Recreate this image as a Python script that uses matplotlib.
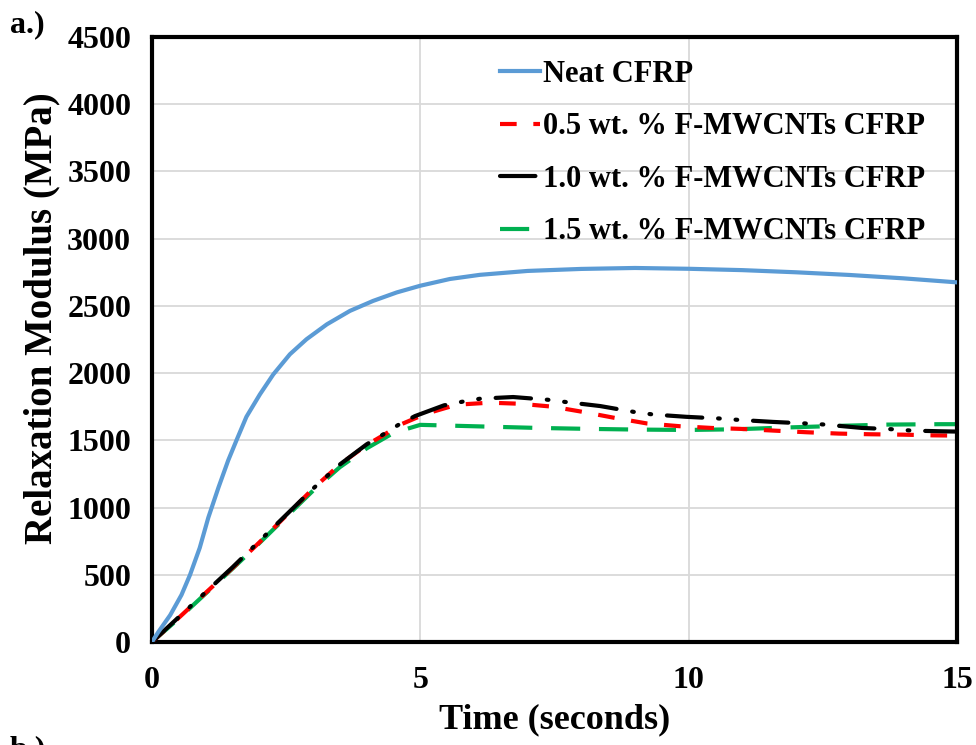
import matplotlib.pyplot as plt

t_neat = [0, 0.12, 0.34, 0.55, 0.71, 0.89, 1.05, 1.24, 1.42, 1.58, 1.76, 2.01, 2.26,
          2.57, 2.88, 3.26, 3.69, 4.12, 4.56, 5.0, 5.55, 6.11, 7.0, 8.0, 9.0, 10.0,
          11.0, 12.0, 13.0, 14.0, 15.0]
neat = [0, 75, 200, 350, 500, 700, 925, 1150, 1350, 1505, 1675, 1841, 1990,
        2140, 2252, 2363, 2463, 2537, 2600, 2650, 2700, 2731, 2760, 2775, 2782, 2776,
        2766, 2750, 2730, 2705, 2675]

t_05 = [0, 0.5, 1, 1.5, 2, 2.5, 3, 3.5, 4, 4.32, 4.63, 5.1, 5.68, 6.29, 6.86, 7.47,
        8.05, 8.62, 9.23, 9.83, 10.43, 10.97, 11.6, 12.2, 12.8, 13.4, 14.0, 14.55, 15.0]
wt_05 = [0, 180, 365, 550, 740, 940, 1140, 1320, 1465, 1540, 1617, 1697, 1765, 1780,
         1772, 1750, 1710, 1667, 1625, 1605, 1592, 1585, 1572, 1560, 1550, 1545, 1542,
         1537, 1535]

t_10 = [0, 0.5, 1, 1.5, 2, 2.5, 3, 3.5, 4, 4.3, 4.6, 4.9, 5.44, 5.78, 6.12, 6.73, 7.37,
        7.71, 8.35, 9.0, 9.34, 9.95, 10.59, 10.93, 11.57, 12.2, 12.55, 13.23, 13.82,
        14.17, 14.73, 15.0]
wt_10 = [0, 185, 370, 555, 750, 945, 1140, 1320, 1470, 1542, 1617, 1680, 1760, 1787,
         1810, 1822, 1802, 1785, 1755, 1710, 1692, 1675, 1662, 1652, 1637, 1625, 1617,
         1592, 1582, 1572, 1567, 1565]

t_15 = [0, 0.5, 1, 1.5, 2, 2.5, 3, 3.5, 4, 4.5, 5.0, 5.3, 6.25, 7.2, 8.15, 9.03, 9.98,
        10.86, 11.8, 12.75, 13.7, 14.7, 15.0]
wt_15 = [0, 175, 360, 545, 735, 930, 1125, 1300, 1440, 1555, 1615, 1612, 1602, 1592,
         1585, 1580, 1577, 1582, 1595, 1607, 1617, 1620, 1620]

labels = ["Neat CFRP", "0.5 wt. % F-MWCNTs CFRP",
          "1.0 wt. % F-MWCNTs CFRP", "1.5 wt. % F-MWCNTs CFRP"]

plt.rcParams['font.family'] = 'Liberation Serif'
plt.rcParams['font.weight'] = 'bold'

fig = plt.figure(figsize=(9.76, 7.45), dpi=100)
ax = fig.add_axes([0.1557, 0.1383, 0.8248, 0.812])

ax.plot(t_15, wt_15, color='#00b050', lw=3, dashes=(7, 4.5), zorder=2, label=labels[3])
ax.plot(t_05, wt_05, color='#ff0000', lw=3, dashes=(4, 4), zorder=3, label=labels[1])
ax.plot(t_10, wt_10, color='black', lw=3, dashes=(8.5, 3.8, 0.4, 3.8, 0.4, 3.8),
        dash_capstyle='round', zorder=4, label=labels[2])
ax.plot(t_neat, neat, color='#5b9bd5', lw=3, zorder=5, label=labels[0])

ax.set_xlim(0, 15)
ax.set_ylim(0, 4500)
ax.set_xticks([0, 5, 10, 15])
ax.set_yticks(range(0, 4501, 500))
ax.grid(color='#d9d9d9', lw=1.3)
ax.set_axisbelow(True)
ax.tick_params(length=0, labelsize=23)
ax.tick_params(axis='y', pad=15)
ax.tick_params(axis='x', pad=17)
for s in ax.spines.values():
    s.set_linewidth(3)

ax.set_xlabel("Time (seconds)", fontsize=26, fontweight='bold', labelpad=6)
ax.set_ylabel("Relaxation Modulus (MPa)", fontsize=28, fontweight='bold')
ax.yaxis.set_label_coords(-0.114, 0.535)

h, l = ax.get_legend_handles_labels()
order = [3, 1, 2, 0]
ax.legend([h[i] for i in order], [l[i] for i in order], loc='upper right',
          bbox_to_anchor=(0.995, 1.008), frameon=False, fontsize=22,
          handlelength=1.3, handletextpad=0.12, labelspacing=0.77)

fig.text(0.01, 0.957, "a.)", fontsize=23, fontweight='bold')
fig.text(0.01, -0.016, "b.)", fontsize=23, fontweight='bold')

fig.savefig("out.png", dpi=100)
